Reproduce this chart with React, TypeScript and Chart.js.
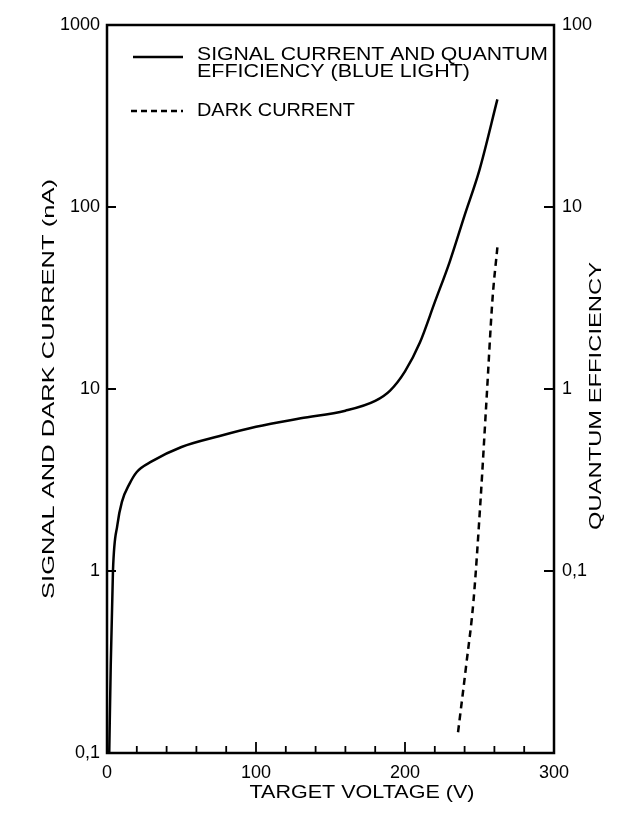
import React, { useEffect, useRef } from "react";
import { Chart, registerables } from "chart.js";

Chart.register(...registerables);

// Signal current (nA) vs target voltage (V)
const signalVoltage = [1.5, 2.5, 4, 7, 10, 15, 20, 30, 50, 75, 100, 130, 160, 180, 190, 200, 210, 220, 230, 240, 250, 262];
const signalCurrent = [0.1, 0.3, 1, 1.8, 2.4, 3.0, 3.5, 4.0, 4.8, 5.5, 6.2, 6.9, 7.6, 8.6, 9.8, 12.5, 18, 30, 50, 90, 160, 390];

// Dark current (nA) vs target voltage (V)
const darkVoltage = [235.6, 241, 246, 250.7, 254.7, 258.7, 262];
const darkCurrent = [0.13, 0.3, 0.69, 2.45, 8.7, 31, 60];

const xTickLabels = [0, 100, 200, 300];
const xMinorTicks = [20, 40, 60, 80, 100, 120, 140, 160, 180, 200, 220, 240, 260, 280];
const leftTicks = [0.1, 1, 10, 100, 1000];
const rightTicks = [0.1, 1, 10, 100];

const legendSignal = ["SIGNAL CURRENT AND QUANTUM", "EFFICIENCY (BLUE LIGHT)"];
const legendDark = "DARK CURRENT";
const xTitle = "TARGET VOLTAGE (V)";
const yTitle = "SIGNAL AND DARK CURRENT (nA)";
const y2Title = "QUANTUM EFFICIENCY";

const FONT = "'Liberation Sans', Arial, sans-serif";

const fmt = (v: number) => (v < 1 ? String(v).replace(".", ",") : String(v));

function fitText(ctx: CanvasRenderingContext2D, text: string, cx: number, cy: number, width: number, size: number, rot: number, align: "center" | "left" = "center") {
  ctx.save();
  ctx.font = `${size}px ${FONT}`;
  ctx.fillStyle = "#000";
  ctx.textBaseline = "middle";
  ctx.textAlign = "left";
  const m = ctx.measureText(text).width;
  ctx.translate(cx, cy);
  ctx.rotate(rot);
  ctx.scale(width / m, 1);
  ctx.fillText(text, align === "center" ? -m / 2 : 0, 0);
  ctx.restore();
}

const decor = {
  id: "decor",
  afterDraw(chart: any) {
    const { ctx, chartArea } = chart;
    const { left, right, top, bottom } = chartArea;
    const { x, y, y2 } = chart.scales;
    ctx.save();
    ctx.strokeStyle = "#000";
    ctx.lineWidth = 2.5;
    ctx.strokeRect(left, top, right - left, bottom - top);
    ctx.lineWidth = 1.8;
    ctx.beginPath();
    leftTicks.forEach((v) => {
      const py = y.getPixelForValue(v);
      ctx.moveTo(left, py);
      ctx.lineTo(left + 9, py);
    });
    rightTicks.forEach((v) => {
      const py = y2.getPixelForValue(v);
      ctx.moveTo(right - 10, py);
      ctx.lineTo(right, py);
    });
    xMinorTicks.forEach((v) => {
      const px = x.getPixelForValue(v);
      ctx.moveTo(px, bottom);
      ctx.lineTo(px, bottom - (v % 100 === 0 ? 11 : 7));
    });
    ctx.stroke();

    // legend
    ctx.lineWidth = 2.5;
    ctx.beginPath();
    ctx.moveTo(left + 26, top + 32);
    ctx.lineTo(left + 76, top + 32);
    ctx.stroke();
    ctx.setLineDash([6, 4]);
    ctx.beginPath();
    ctx.moveTo(left + 24, top + 86);
    ctx.lineTo(left + 76, top + 86);
    ctx.stroke();
    ctx.setLineDash([]);
    ctx.restore();

    fitText(ctx, legendSignal[0], left + 90, top + 30, 351, 18, 0, "left");
    fitText(ctx, legendSignal[1], left + 90, top + 47, 273, 18, 0, "left");
    fitText(ctx, legendDark, left + 90, top + 86, 158, 18, 0, "left");

    fitText(ctx, xTitle, 362, 793, 225, 18, 0);
    fitText(ctx, yTitle, 49, 389, 420, 17, -Math.PI / 2);
    fitText(ctx, y2Title, 596, 396, 268, 17, -Math.PI / 2);
  },
};

export default function App() {
  const ref = useRef<HTMLCanvasElement>(null);
  useEffect(() => {
    document.body.style.margin = "0";
    const chart = new Chart(ref.current!, {
      type: "line",
      data: {
        datasets: [
          {
            label: "Signal current",
            data: signalVoltage.map((v, i) => ({ x: v, y: signalCurrent[i] })),
            borderColor: "#000",
            borderWidth: 2.5,
            pointRadius: 0,
            cubicInterpolationMode: "monotone",
            yAxisID: "y",
          },
          {
            label: "Dark current",
            data: darkVoltage.map((v, i) => ({ x: v, y: darkCurrent[i] })),
            borderColor: "#000",
            borderWidth: 2.5,
            borderDash: [7, 5],
            pointRadius: 0,
            cubicInterpolationMode: "monotone",
            yAxisID: "y",
          },
        ],
      },
      options: {
        animation: false,
        responsive: false,
        devicePixelRatio: 1,
        layout: { padding: { top: 25, left: 0, right: 0, bottom: 0 } },
        plugins: { legend: { display: false }, tooltip: { enabled: false } },
        scales: {
          x: {
            type: "linear",
            min: 0,
            max: 300,
            grid: { display: false, drawTicks: false },
            border: { display: false },
            afterBuildTicks: (s: any) => {
              s.ticks = xTickLabels.map((v) => ({ value: v }));
            },
            ticks: { color: "#000", font: { size: 18, family: FONT }, padding: 9, maxRotation: 0 },
            afterFit: (s: any) => {
              s.height = 61;
            },
          },
          y: {
            type: "logarithmic",
            position: "left",
            min: 0.1,
            max: 1000,
            grid: { display: false, drawTicks: false },
            border: { display: false },
            afterBuildTicks: (s: any) => {
              s.ticks = leftTicks.map((v) => ({ value: v }));
            },
            ticks: { color: "#000", font: { size: 18, family: FONT }, padding: 7, callback: (v: any) => fmt(Number(v)) },
            afterFit: (s: any) => {
              s.width = 107;
            },
          },
          y2: {
            type: "logarithmic",
            position: "right",
            display: true,
            min: 0.01,
            max: 100,
            grid: { display: false, drawTicks: false },
            border: { display: false },
            afterBuildTicks: (s: any) => {
              s.ticks = rightTicks.map((v) => ({ value: v }));
            },
            ticks: { color: "#000", font: { size: 18, family: FONT }, padding: 8, callback: (v: any) => fmt(Number(v)) },
            afterFit: (s: any) => {
              s.width = 83;
            },
          },
        },
      },
      plugins: [decor],
    } as any);
    return () => chart.destroy();
  }, []);
  return (
    <div style={{ position: "absolute", left: 0, top: 0, width: 637, height: 814, background: "#fff" }}>
      <canvas ref={ref} width={637} height={814} />
    </div>
  );
}
